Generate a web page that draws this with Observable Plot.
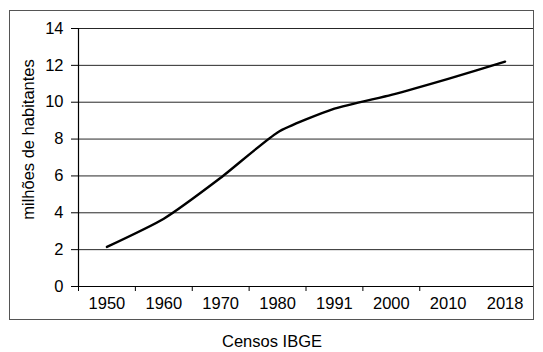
<!DOCTYPE html>
<html>
<head>
<meta charset="utf-8">
<script src="https://cdn.jsdelivr.net/npm/d3@7"></script>
<script src="https://cdn.jsdelivr.net/npm/@observablehq/plot@0.6"></script>
<style>
  html, body { margin: 0; padding: 0; background: #fff; }
  #wrap { position: relative; width: 543px; height: 352px; font-family: "Liberation Sans", Arial, sans-serif; }
  #border { position: absolute; left: 9px; top: 10px; width: 525px; height: 310px; box-sizing: border-box; border: 1.5px solid #555; pointer-events: none; }
  #wrap svg { position: absolute; left: 0; top: 0; }
</style>
</head>
<body>
<div id="wrap"><div id="border"></div></div>
<script>
const years = ["1950", "1960", "1970", "1980", "1991", "2000", "2010", "2018"];
const population = [2.15, 3.68, 5.9, 8.36, 9.65, 10.4, 11.27, 12.2];
const yTicks = [0, 2, 4, 6, 8, 10, 12, 14];
const yLabel = "milhões de habitantes";
const xLabel = "Censos IBGE";

const data = years.map((y, i) => ({i, year: y, value: population[i]}));
const idx = years.map((_, i) => i);
const bounds = years.slice(0, -1).map((_, i) => i - 0.5);

const chart = Plot.plot({
  width: 543,
  height: 352,
  marginLeft: 78,
  marginRight: 10,
  marginTop: 28,
  marginBottom: 66,
  style: {fontFamily: "Liberation Sans, Arial, sans-serif", fontSize: "16.5px", color: "#000", background: "transparent"},
  x: {type: "linear", domain: [-0.5, years.length - 0.5]},
  y: {domain: [0, 14]},
  marks: [
    Plot.gridY(yTicks.filter(v => v > 0), {stroke: "#000", strokeOpacity: 0.85, strokeWidth: 1}),
    Plot.ruleY([0], {stroke: "#000", strokeWidth: 1.2}),
    Plot.ruleX([-0.5], {y1: 0, y2: 14, stroke: "#000", strokeWidth: 1.2}),
    Plot.axisY({ticks: yTicks, tickSize: 7, tickPadding: 8, label: null, fontSize: 16.5, stroke: "#000"}),
    Plot.axisX({ticks: bounds, tickSize: 5, tickFormat: () => "", label: null, stroke: "#000"}),
    Plot.axisX({ticks: idx, tickSize: 0, tickPadding: 11, tickFormat: i => years[i], label: null, fontSize: 16.5}),
    Plot.line(data, {x: "i", y: "value", stroke: "#000", strokeWidth: 2.4, curve: "cardinal", tension: 0.45}),
    Plot.text([yLabel], {frameAnchor: "left", textAnchor: "middle", rotate: -90, dx: -50, dy: -18, fontSize: 16.5, fill: "#000"}),
    Plot.text([xLabel], {frameAnchor: "bottom", lineAnchor: "middle", dx: -34, dy: 55, fontSize: 16.5, fill: "#000"})
  ]
});
document.getElementById("wrap").appendChild(chart);
</script>
</body>
</html>
